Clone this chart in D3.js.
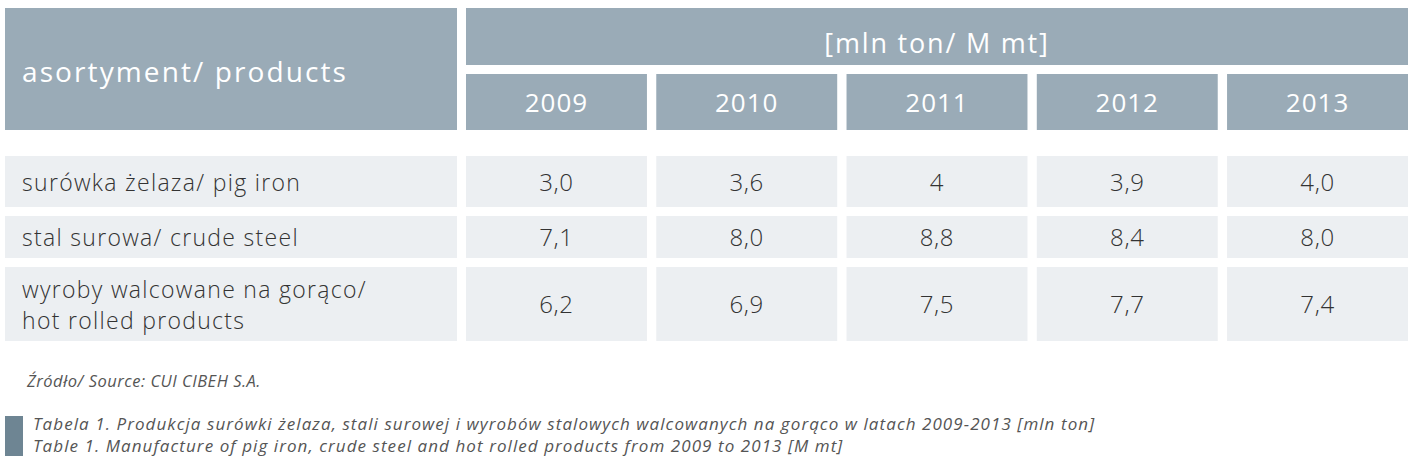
<!DOCTYPE html>
<html><head><meta charset="utf-8">
<script src="https://cdn.jsdelivr.net/npm/d3@7"></script>
<style>html,body{margin:0;padding:0;background:#fff;}svg{display:block;}</style>
</head><body>
<svg id="chart" width="1417" height="462"></svg>
<script>
// ---- data ----
const years = ["2009", "2010", "2011", "2012", "2013"];
const products = [
  ["surówka żelaza/ pig iron"],
  ["stal surowa/ crude steel"],
  ["wyroby walcowane na gorąco/", "hot rolled products"]
];
const pigIron = ["3,0", "3,6", "4", "3,9", "4,0"];
const crudeSteel = ["7,1", "8,0", "8,8", "8,4", "8,0"];
const hotRolled = ["6,2", "6,9", "7,5", "7,7", "7,4"];
const headerLeft = "asortyment/ products";
const unitLabel = "[mln ton/ M mt]";
const sourceText = "Źródło/ Source: CUI CIBEH S.A.";
const captionPL = "Tabela 1. Produkcja surówki żelaza, stali surowej i wyrobów stalowych walcowanych na gorąco w latach 2009-2013 [mln ton]";
const captionEN = "Table 1. Manufacture of pig iron, crude steel and hot rolled products from 2009 to 2013 [M mt]";
const rows = [pigIron, crudeSteel, hotRolled];

// ---- layout ----
const headFill = "#9aabb7", bodyFill = "#eceff2", textDark = "#333";
const font = "'Open Sans', 'Noto Sans', sans-serif";
const svg = d3.select("#chart");
const x = d3.scaleBand().domain(years).range([466, 1408]).paddingInner(0.049).paddingOuter(0);
const rowHeights = [51, 42, 74];
const rowTops = [156, 216, 267];
const y = d3.scaleOrdinal().domain(d3.range(products.length)).range(rowTops);

// header
svg.append("rect").attr("x", 5).attr("y", 8).attr("width", 452).attr("height", 122).attr("fill", headFill);
svg.append("text").attr("x", 22).attr("y", 82).attr("fill", "#fff")
  .attr("font-family", font).attr("font-size", 28).attr("letter-spacing", 2.1).text(headerLeft);
svg.append("rect").attr("x", x.range()[0]).attr("y", 8).attr("width", x.range()[1] - x.range()[0]).attr("height", 57).attr("fill", headFill);
svg.append("text").attr("x", (x.range()[0] + x.range()[1]) / 2).attr("y", 53).attr("text-anchor", "middle")
  .attr("fill", "#fff").attr("font-family", font).attr("font-size", 27).attr("letter-spacing", 1.8).text(unitLabel);
const yh = svg.append("g").selectAll("g").data(years).join("g");
yh.append("rect").attr("x", d => x(d)).attr("y", 74).attr("width", x.bandwidth()).attr("height", 56).attr("fill", headFill);
yh.append("text").attr("x", d => x(d) + x.bandwidth() / 2).attr("y", 112).attr("text-anchor", "middle")
  .attr("fill", "#fff").attr("font-family", font).attr("font-size", 26).attr("letter-spacing", 1).text(d => d);

// body
const rg = svg.append("g").selectAll("g").data(products).join("g");
rg.append("rect").attr("x", 5).attr("y", (d, i) => y(i)).attr("width", 452).attr("height", (d, i) => rowHeights[i]).attr("fill", bodyFill);
rg.each(function(lines, i) {
  const g = d3.select(this);
  const cy = y(i) + rowHeights[i] / 2;
  const lh = 31;
  const startY = cy - (lines.length - 1) * lh / 2 + 9;
  lines.forEach((t, k) => {
    g.append("text").attr("x", 22).attr("y", startY + k * lh).attr("fill", textDark)
      .attr("font-family", font).attr("font-size", 23).attr("font-weight", 300)
      .attr("letter-spacing", 1.3).text(t);
  });
  const vals = rows[i];
  years.forEach((yr, j) => {
    g.append("rect").attr("x", x(yr)).attr("y", y(i)).attr("width", x.bandwidth()).attr("height", rowHeights[i]).attr("fill", bodyFill);
    g.append("text").attr("x", x(yr) + x.bandwidth() / 2).attr("y", cy + 9).attr("text-anchor", "middle")
      .attr("fill", textDark).attr("font-family", font).attr("font-size", 24).attr("font-weight", 300)
      .attr("letter-spacing", 0.6).text(vals[j]);
  });
});

// source and caption
svg.append("text").attr("x", 27).attr("y", 387).attr("fill", "#555").attr("font-style", "italic")
  .attr("font-family", font).attr("font-size", 16.5).attr("letter-spacing", 0.5).text(sourceText);
svg.append("rect").attr("x", 5).attr("y", 416).attr("width", 18).attr("height", 40).attr("fill", "#6e8593");
svg.append("text").attr("x", 33).attr("y", 430).attr("fill", "#555").attr("font-style", "italic")
  .attr("font-family", font).attr("font-size", 17).attr("letter-spacing", 1.07).text(captionPL);
svg.append("text").attr("x", 33).attr("y", 452).attr("fill", "#555").attr("font-style", "italic")
  .attr("font-family", font).attr("font-size", 17).attr("letter-spacing", 1.07).text(captionEN);
</script>
</body></html>
